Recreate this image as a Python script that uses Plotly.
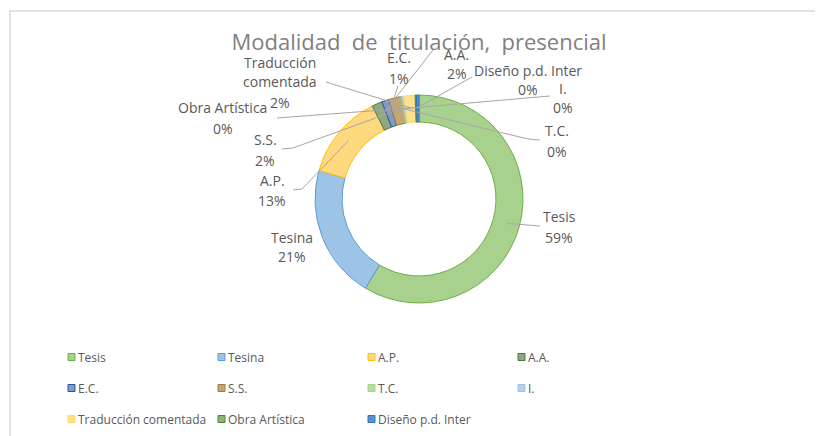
import math
import plotly.graph_objects as go

W, H = 823, 436

# data (share of each modality)
labels = ["Tesis", "Tesina", "A.P.", "A.A.", "E.C.", "S.S.", "T.C.", "I.",
          "Traducción comentada", "Obra Artística", "Diseño p.d. Inter"]
values = [58.6, 20.8, 13.2, 1.6, 1.1, 1.9, 0.2, 0.2, 1.8, 0.2, 0.4]
fill_colors = ["#A9D18E", "#9DC3E6", "#FFD97F", "#8FA882", "#7F9BC6", "#C4A676",
               "#B8DAA3", "#B4D0EE", "#FFE08F", "#8DB574", "#5B8FD0"]
line_colors = ["#70AD47", "#5B9BD5", "#FFC000", "#4E7A36", "#2F5597", "#9E7F3E",
               "#A9D18E", "#9DC3E6", "#FFD966", "#548235", "#2E75B6"]
title = "Modalidad de titulación, presencial"

# where Excel put the data labels (px, centre of first line) and leader line anchors
label_pos = {
    "Tesis": (559, 217), "Tesina": (292, 237), "A.P.": (272, 180),
    "A.A.": (457, 54), "E.C.": (399, 58), "S.S.": (265, 140),
    "T.C.": (557, 131), "I.": (563, 88), "Traducción comentada": (280, 62),
    "Obra Artística": (223, 108), "Diseño p.d. Inter": (528, 70),
}
label_lines = {"Traducción comentada": ["Traducción", "comentada"]}
leader = {
    "Tesis": [(540, 226)], "A.P.": [(293, 190), (302, 189)],
    "A.A.": [(433, 50)], "E.C.": [(398, 86)], "S.S.": [(282, 149), (293, 148)],
    "T.C.": [(540, 140), (528, 139)], "I.": [(550, 96)],
    "Traducción comentada": [(326, 82)], "Obra Artística": [(277, 118)],
    "Diseño p.d. Inter": [(472, 77)],
}

CX, CY, R = 419, 199, 104
HOLE = 0.74
OFF = 8  # page body margin
FONT = "Open Sans, sans-serif"
TXT = "#595959"


def px(x):
    return (x - OFF) / W


def py(y):
    return 1 - (y - OFF) / H


fig = go.Figure(go.Pie(
    labels=labels,
    values=values,
    hole=HOLE,
    sort=False,
    direction="clockwise",
    rotation=0,
    textinfo="none",
    marker=dict(colors=fill_colors, line=dict(color=line_colors, width=1)),
    domain=dict(x=[px(CX - R), px(CX + R)], y=[py(CY + R), py(CY - R)]),
    showlegend=False,
))

total = sum(values)
annotations = []
shapes = []

# chart area border (only top/left visible in the crop)
shapes.append(dict(type="rect", xref="paper", yref="paper",
                   x0=px(10), x1=px(W + 40), y0=py(11), y1=py(H + 40),
                   line=dict(color="#D9D9D9", width=1.5), layer="below"))

cum = 0
for lab, v in zip(labels, values):
    pct = round(v / total * 100)
    ang = math.radians(360 * (cum + v / 2) / total)
    cum += v
    lx, ly = label_pos[lab]
    lines = label_lines.get(lab, [lab]) + [f"{pct}%"]
    for i, t in enumerate(lines):
        annotations.append(dict(x=px(lx), y=py(ly + i * 20), xref="paper", yref="paper",
                                text=t, showarrow=False, xanchor="center", yanchor="middle",
                                font=dict(family=FONT, size=14, color=TXT)))
    if lab in leader:
        rr = R * 0.88
        sx, sy = CX + rr * math.sin(ang), CY - rr * math.cos(ang)
        pts = leader[lab] + [(sx, sy)]
        path = "M " + " L ".join(f"{px(a):.5f},{py(b):.5f}" for a, b in pts)
        shapes.append(dict(type="path", xref="paper", yref="paper", path=path,
                           line=dict(color="#A6A6A6", width=1), layer="above"))

# legend drawn as a 4-column grid like Excel
for i, lab in enumerate(labels):
    col, row = i % 4, i // 4
    x0 = 68 + col * 150
    yc = 357 + row * 31
    shapes.append(dict(type="rect", xref="paper", yref="paper",
                       x0=px(x0), x1=px(x0 + 7), y0=py(yc + 3.5), y1=py(yc - 3.5),
                       fillcolor=fill_colors[i], line=dict(color=line_colors[i], width=1)))
    annotations.append(dict(x=px(x0 + 8), y=py(yc), xref="paper", yref="paper",
                            text=lab, showarrow=False, xanchor="left", yanchor="middle",
                            font=dict(family=FONT, size=12, color=TXT)))

fig.update_layout(
    width=W, height=H,
    margin=dict(l=0, r=0, t=0, b=0),
    paper_bgcolor="white",
    plot_bgcolor="white",
    title=dict(text=title.replace(" ", "&nbsp; "), x=px(CX), y=py(42),
               xanchor="center", yanchor="middle",
               font=dict(family=FONT, size=22, color="#808080")),
    annotations=annotations,
    shapes=shapes,
)

fig.write_html("out.html")
